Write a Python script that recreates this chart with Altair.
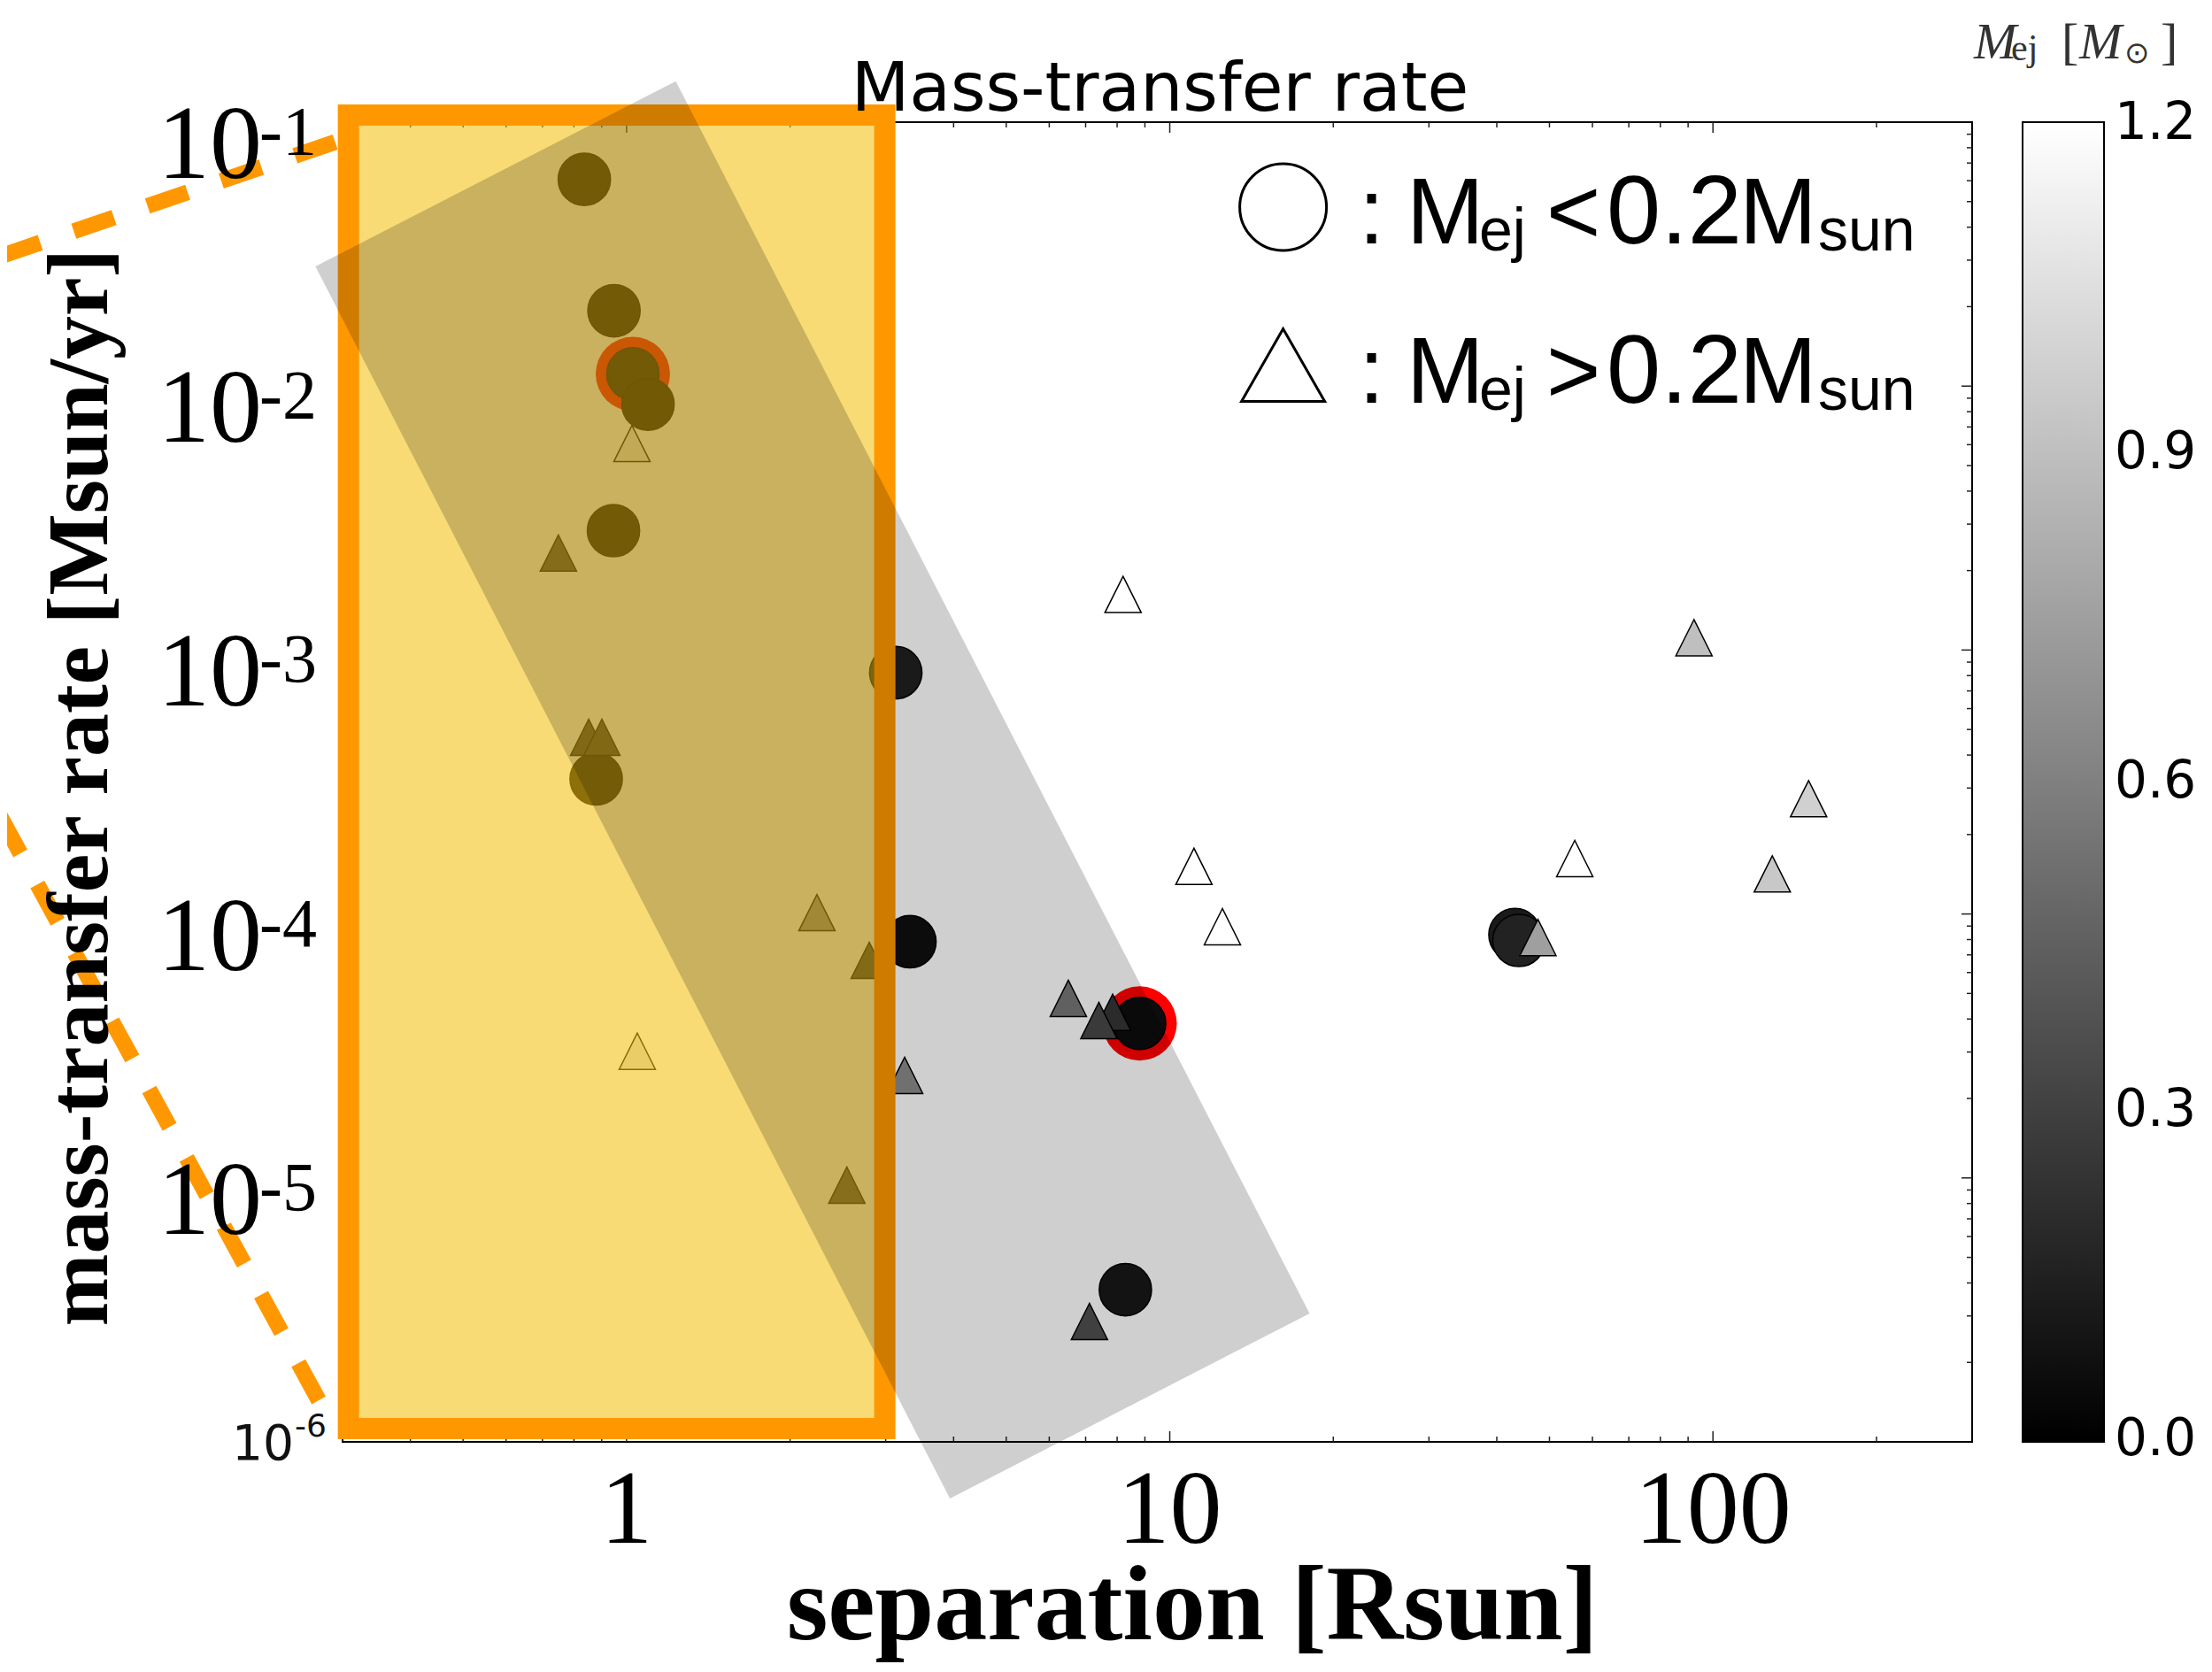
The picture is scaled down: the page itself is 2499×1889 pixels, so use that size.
import altair as alt
import pandas as pd

# ---------------- values ----------------
# circles : M_ej < 0.2 Msun
circle_sep = [0.836, 0.948, 1.027, 1.095, 0.946, 0.879, 3.13, 3.324, 8.80, 8.285, 43.2, 43.93]
circle_rate = [0.0607, 0.0193, 0.01112, 0.00854, 0.002834, 3.249e-4, 8.21e-4, 7.85e-5,
               3.85e-5, 3.77e-6, 8.35e-5, 7.94e-5]
circle_mej = [0.03, 0.04, 0.03, 0.02, 0.04, 0.05, 0.15, 0.07, 0.06, 0.11, 0.12, 0.16]
circle_ring = [0, 0, 1, 0, 0, 0, 0, 0, 1, 0, 0, 0]

# triangles : M_ej > 0.2 Msun
tri_sep = [1.023, 0.749, 0.8515, 0.9006, 1.0464, 2.241, 2.797, 2.544, 3.250, 6.506,
           7.849, 7.405, 7.114, 8.204, 11.08, 12.50, 47.62, 55.66, 92.28, 128.6, 150.0]
tri_rate = [6.06e-3, 2.33e-3, 4.67e-4, 4.67e-4, 3.02e-5, 1.012e-4, 6.67e-5, 9.39e-6, 2.445e-5,
            4.79e-5, 4.24e-5, 3.95e-5, 2.858e-6, 1.624e-3, 1.515e-4, 8.95e-5, 8.14e-5,
            1.622e-4, 1.113e-3, 1.418e-4, 2.734e-4]
tri_mej = [1.1, 0.28, 0.22, 0.22, 1.05, 0.65, 0.25, 0.3, 0.65, 0.56,
           0.25, 0.34, 0.37, 1.2, 1.2, 1.2, 0.75, 1.2, 0.9, 0.94, 0.98]

# axes
x_domain = [0.3, 300]
y_domain = [1e-6, 1e-1]
x_major = [1, 10, 100]
x_minor = [0.4, 0.5, 0.6, 0.7, 0.8, 0.9, 2, 3, 4, 5, 6, 7, 8, 9,
           20, 30, 40, 50, 60, 70, 80, 90, 200]
y_major = [1e-5, 1e-4, 1e-3, 1e-2]
y_minor_mult = [2, 3, 4, 5, 6, 7, 8, 9]
y_minor_dec = [1e-6, 1e-5, 1e-4, 1e-3, 1e-2]
y_minor = [m * d for d in y_minor_dec for m in y_minor_mult]
x_tick_values = [1, 10, 100]
x_tick_labels = ["1", "10", "100"]
y_label_values = [1e-1, 1e-2, 1e-3, 1e-4, 1e-5]
y_label_exps = ["-1", "-2", "-3", "-4", "-5"]
cbar_values = [0.0, 0.3, 0.6, 0.9, 1.2]
cbar_domain = [-0.002, 1.202]

# overlay shapes (data coordinates)
box_sep = [0.3076, 2.988]
box_rate = [1.123e-6, 0.1064]
band_sep = [0.2674, 1.2318, 18.09, 3.938]
band_rate = [0.02841, 0.14286, 3.066e-6, 6.10e-7]
dash_sep = [0.07024, 0.2922, 0.07024, 0.2836]
dash_rate = [0.03101, 0.08437, 2.35e-4, 1.213e-6]
dash_group = ["a", "a", "b", "b"]

# ---------------- chart ----------------
W, H = 1841, 1491
xs = alt.Scale(type="log", domain=x_domain, nice=False)
ys = alt.Scale(type="log", domain=y_domain, nice=False)


def X(f):
    return alt.X(f, type="quantitative", scale=xs, axis=None)


def Y(f):
    return alt.Y(f, type="quantitative", scale=ys, axis=None)


col = alt.Color(
    "mej:Q",
    scale=alt.Scale(domain=cbar_domain, range=["#000000", "#ffffff"], interpolate="rgb"),
    legend=alt.Legend(
        orient="none", legendX=1898, legendY=0, direction="vertical", title=None,
        gradientLength=H, gradientThickness=92, values=cbar_values, format=".1f",
        labelFont="DejaVu Sans", labelFontSize=58, labelColor="black", labelOffset=12,
        labelOverlap=False, gradientStrokeColor="black",
        gradientStrokeWidth=2, padding=0, offset=0,
    ),
)

one = pd.DataFrame({"k": [0]})
layers = []

# ticks (inward, matplotlib style)
def tick_layer(vals, side, length):
    df = pd.DataFrame({"v": vals})
    m = alt.Chart(df).mark_rule(color="#222222", strokeWidth=1.5)
    if side == "bottom":
        return m.encode(x=X("v"), y=alt.value(H), y2=alt.value(H - length))
    if side == "top":
        return m.encode(x=X("v"), y=alt.value(0), y2=alt.value(length))
    if side == "left":
        return m.encode(y=Y("v"), x=alt.value(0), x2=alt.value(length))
    return m.encode(y=Y("v"), x=alt.value(W), x2=alt.value(W - length))


for side in ["bottom", "top"]:
    layers.append(tick_layer(x_major, side, 12))
    layers.append(tick_layer(x_minor, side, 6))
for side in ["left", "right"]:
    layers.append(tick_layer(y_major, side, 12))
    layers.append(tick_layer(y_minor, side, 6))

circles = pd.DataFrame({"sep": circle_sep, "rate": circle_rate, "mej": circle_mej, "ring": circle_ring})
ring_df = circles[circles["ring"] == 1]
tris = pd.DataFrame({"sep": tri_sep, "rate": tri_rate, "mej": tri_mej})

layers.append(
    alt.Chart(ring_df).mark_point(shape="circle", filled=True, fill="#ff0000", size=7056,
                                  opacity=1, strokeWidth=0)
    .encode(x=X("sep"), y=Y("rate"))
)
layers.append(
    alt.Chart(circles).mark_point(shape="circle", filled=True, size=3500, opacity=1,
                                  stroke="black", strokeWidth=1.5)
    .encode(x=X("sep"), y=Y("rate"), color=col)
)
layers.append(
    alt.Chart(tris).mark_point(shape="M0,-1L-1,1L1,1Z", filled=True, size=1681, opacity=1,
                               stroke="black", strokeWidth=1.5)
    .encode(x=X("sep"), y=Y("rate"), color=col)
)

# orange highlighted box
box_df = pd.DataFrame({"x0": [box_sep[0]], "x1": [box_sep[1]],
                       "y0": [box_rate[0]], "y1": [box_rate[1]]})
layers.append(
    alt.Chart(box_df).mark_rect(fill="#f4bf0b", fillOpacity=0.565, stroke="#ff9800",
                                strokeWidth=24, strokeOpacity=1)
    .encode(x=X("x0"), x2="x1", y=Y("y0"), y2="y1")
)

# gray tilted band
band_df = pd.DataFrame({"sep": band_sep, "rate": band_rate, "i": list(range(len(band_sep)))})
layers.append(
    alt.Chart(band_df).mark_line(interpolate="linear-closed", fill="black", fillOpacity=0.19,
                                 stroke="black", strokeOpacity=0, strokeWidth=0)
    .encode(x=X("sep"), y=Y("rate"), order="i:Q")
)

# dashed orange callout lines
dash_df = pd.DataFrame({"sep": dash_sep, "rate": dash_rate, "g": dash_group, "i": [0, 1, 0, 1]})
layers.append(
    alt.Chart(dash_df).mark_line(color="#ff9800", strokeWidth=18, strokeDash=[48, 40],
                                 strokeCap="butt")
    .encode(x=X("sep"), y=Y("rate"), detail="g:N", order="i:Q")
)


def label(s, x, y, size, font="Liberation Sans", align="left", **kw):
    params = dict(text=s, font=font, fontSize=size, align=align, baseline="alphabetic")
    params.setdefault("color", "black")
    params.update(kw)
    return alt.Chart(one).mark_text(**params).encode(x=alt.value(x), y=alt.value(y))


# in-plot legend
layers.append(
    alt.Chart(one).mark_point(shape="circle", filled=True, fill="white", stroke="black",
                              strokeWidth=3, size=9604, opacity=1)
    .encode(x=alt.value(1062.6), y=alt.value(96))
)
layers.append(
    alt.Chart(one).mark_point(shape="M0,-0.87L-1,0.87L1,0.87Z", filled=True, fill="white",
                              stroke="black", strokeWidth=3, size=8836, opacity=1)
    .encode(x=alt.value(1062.6), y=alt.value(274.5))
)
for base, sign in [(137, "<"), (317, ">")]:
    layers.append(label(":", 1148, base, 105))
    layers.append(label("M", 1202, base, 105))
    layers.append(label("ej", 1284, base + 8, 68))
    layers.append(label(sign, 1360, base, 105))
    layers.append(label("0.2", 1428, base, 110))
    layers.append(label("M", 1578, base, 105))
    layers.append(label("sun", 1667, base + 8, 68))

# title
layers.append(label("Mass-transfer rate", 923.5, -13, 76, font="DejaVu Sans", align="center"))

# x tick labels
xlab_df = pd.DataFrame({"v": x_tick_values, "t": x_tick_labels})
layers.append(
    alt.Chart(xlab_df).mark_text(font="Liberation Serif", fontSize=118, align="center",
                                 baseline="alphabetic", color="black")
    .encode(x=X("v"), y=alt.value(1605), text="t:N")
)

# y tick labels 10^-k
ylab_df = pd.DataFrame({"v": y_label_values, "b": ["10"] * len(y_label_values), "e": y_label_exps})
layers.append(
    alt.Chart(ylab_df).mark_text(font="Liberation Serif", fontSize=118, align="right",
                                 baseline="alphabetic", dy=63, color="black")
    .encode(y=Y("v"), x=alt.value(-91), text="b:N")
)
layers.append(
    alt.Chart(ylab_df).mark_text(font="Liberation Serif", fontSize=78, align="left",
                                 baseline="alphabetic", dy=36, color="black")
    .encode(y=Y("v"), x=alt.value(-94), text="e:N")
)
small_df = pd.DataFrame({"v": [1e-6], "b": ["10"], "e": ["-6"]})
layers.append(
    alt.Chart(small_df).mark_text(font="DejaVu Sans", fontSize=55, align="right",
                                  baseline="alphabetic", dy=20, color="#111111")
    .encode(y=Y("v"), x=alt.value(-55), text="b:N")
)
layers.append(
    alt.Chart(small_df).mark_text(font="DejaVu Sans", fontSize=36, align="left",
                                  baseline="alphabetic", dy=-6, color="#111111")
    .encode(y=Y("v"), x=alt.value(-54), text="e:N")
)

# axis titles
layers.append(label("separation [Rsun]", 960, 1714, 120, font="Liberation Serif",
                    align="center", fontWeight="bold"))
layers.append(label("mass-transfer rate [Msun/yr]", -266, 751.5, 98, font="Liberation Serif",
                    align="center", fontWeight="bold", angle=270))

# colorbar title  M_ej [M_sun]
cb = "#333333"
layers.append(label("M", 1843, -72, 58, font="Liberation Serif", fontStyle="italic", color=cb))
layers.append(label("ej", 1885, -70, 42, font="Liberation Serif", color=cb))
layers.append(label("[", 1942, -72, 58, font="Liberation Serif", color=cb))
layers.append(label("M", 1962, -72, 58, font="Liberation Serif", fontStyle="italic", color=cb))
layers.append(label("\u2299", 2013, -67, 34, font="DejaVu Sans", color=cb))
layers.append(label("]", 2054, -72, 58, font="Liberation Serif", color=cb))

chart = (
    alt.layer(*layers)
    .properties(
        width=W, height=H,
        autosize=alt.AutoSizeParams(type="none"),
        padding={"left": 379, "top": 130, "right": 262, "bottom": 250},
        background="white",
    )
    .configure_view(stroke="black", strokeWidth=2)
)

chart.save("out.html", embed_options={"renderer": "svg", "actions": False})
